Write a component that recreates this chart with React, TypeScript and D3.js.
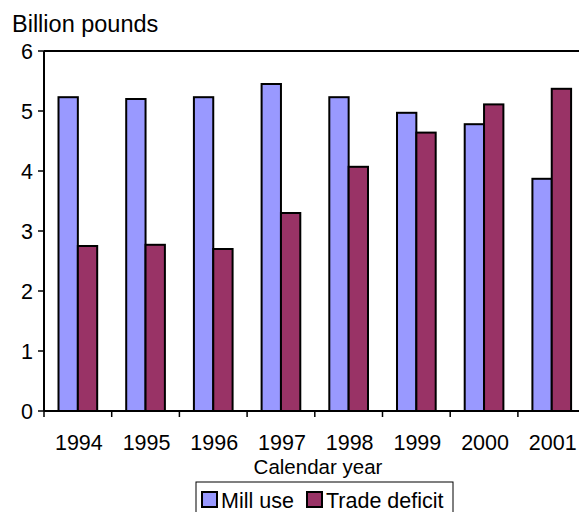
import React from "react";
import * as d3 from "d3";

const years = ["1994", "1995", "1996", "1997", "1998", "1999", "2000", "2001"];
const millUse = [5.23, 5.2, 5.23, 5.45, 5.23, 4.97, 4.78, 3.87];
const tradeDeficit = [2.75, 2.77, 2.7, 3.3, 4.07, 4.64, 5.11, 5.37];
const yTicks = [0, 1, 2, 3, 4, 5, 6];
const seriesNames = ["Mill use", "Trade deficit"];
const colors = ["#9999FF", "#993366"];

export default function App() {
  const W = 579, H = 512;
  const left = 44, top = 51, bottom = 411;
  const catW = 67.7;
  const right = left + catW * years.length;
  const x = d3.scaleBand<string>().domain(years).range([left, right]).paddingInner(0).paddingOuter(0);
  const y = d3.scaleLinear().domain([0, 6]).range([bottom, top]);
  const barW = catW / 3.5;
  const groupOff = (catW - 2 * barW) / 2;
  const font = "'Liberation Sans', Arial, sans-serif";
  const series = [millUse, tradeDeficit];

  return (
    <svg width={W} height={H} style={{ position: "absolute", left: 0, top: 0, background: "#fff" }} fontFamily={font}>
      <text x={12} y={32} fontSize={23.5}>Billion pounds</text>
      {series.map((vals, si) =>
        vals.map((v, i) => (
          <rect
            key={`${si}-${i}`}
            x={(x(years[i]) as number) + groupOff + si * barW}
            y={y(v)}
            width={barW}
            height={y(0) - y(v)}
            fill={colors[si]}
            stroke="#000"
            strokeWidth={2}
          />
        ))
      )}
      <line x1={left} x2={W} y1={top} y2={top} stroke="#000" strokeWidth={2} />
      <line x1={left} x2={left} y1={top} y2={bottom} stroke="#000" strokeWidth={2} />
      <line x1={left} x2={W} y1={bottom} y2={bottom} stroke="#000" strokeWidth={2} />
      {yTicks.map((t) => (
        <g key={t}>
          <line x1={left - 6} x2={left} y1={y(t)} y2={y(t)} stroke="#000" strokeWidth={1.5} />
          <text x={33} y={y(t)} dy="0.36em" textAnchor="end" fontSize={21.5}>{t}</text>
        </g>
      ))}
      {years.map((yr) => (
        <g key={yr}>
          <line x1={x(yr) as number} x2={x(yr) as number} y1={bottom} y2={bottom + 6} stroke="#000" strokeWidth={1.5} />
          <text x={(x(yr) as number) + catW / 2 + 1} y={450} textAnchor="middle" fontSize={21.5}>{yr}</text>
        </g>
      ))}
      <text x={318} y={474} textAnchor="middle" fontSize={20.5}>Calendar year</text>
      <rect x={196} y={482} width={257} height={40} fill="#fff" stroke="#000" strokeWidth={1} />
      {seriesNames.map((n, i) => {
        const lx = [202, 307][i];
        return (
          <g key={n}>
            <rect x={lx} y={492} width={15} height={15} fill={colors[i]} stroke="#000" strokeWidth={2} />
            <text x={lx + 19} y={507.5} fontSize={21.5}>{n}</text>
          </g>
        );
      })}
    </svg>
  );
}
